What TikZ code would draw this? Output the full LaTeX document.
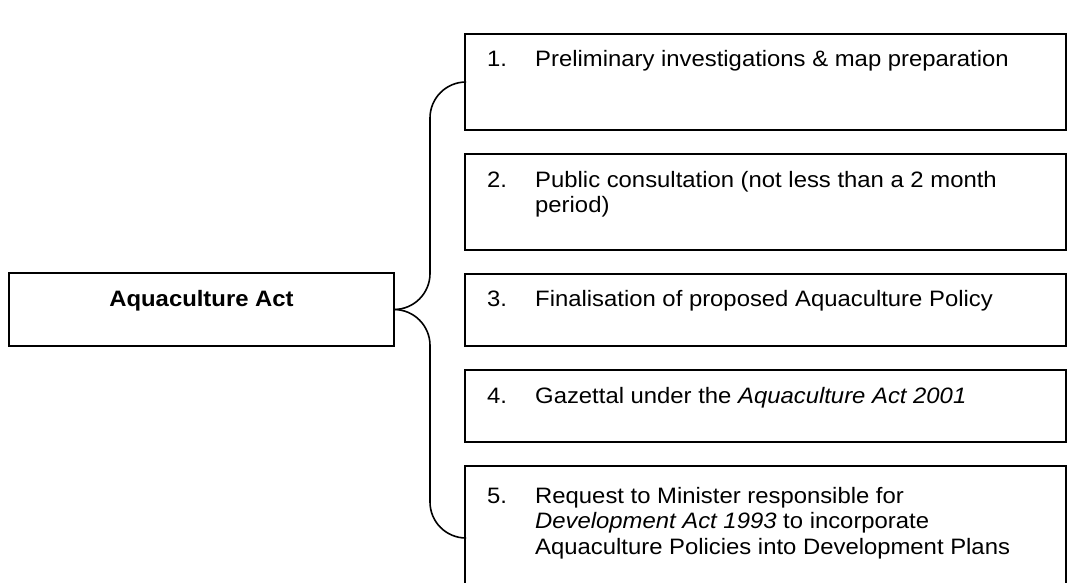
\documentclass[tikz,border=0pt]{standalone}
\usepackage{fontspec}
\setmainfont[FakeStretch=1.07]{Liberation Sans}
\begin{document}
\begin{tikzpicture}[x=1pt,y=-1pt,
  box/.style={draw, line width=2pt, inner sep=0pt, outer sep=0pt, anchor=north west},
  txt/.style={anchor=base west, inner sep=0pt, font=\fontsize{22.3}{25.5}\selectfont},
  brace/.style={line width=1.6pt, rounded corners=36pt}]
\useasboundingbox (0,0) rectangle (1086,583);
\begin{scope}
\clip (0,0) rectangle (1086,583);
% boxes
\node[box, minimum width=385pt, minimum height=73pt] (act) at (9,273) {};
\node[box, minimum width=601pt, minimum height=96pt] (s1) at (465,34) {};
\node[box, minimum width=601pt, minimum height=96pt] (s2) at (465,154) {};
\node[box, minimum width=601pt, minimum height=72pt] (s3) at (465,274) {};
\node[box, minimum width=601pt, minimum height=72pt] (s4) at (465,370) {};
\node[box, minimum width=601pt, minimum height=144pt] (s5) at (465,466) {};
% texts
\node[txt, anchor=base, font=\fontsize{22.3}{25.5}\selectfont\bfseries] (tact) at ([yshift=-33.5pt]act.north) {Aquaculture Act};
\node[txt] (n1) at ([xshift=22pt,yshift=-32.7pt]s1.north west) {1.};
\node[txt] (t1) at ([xshift=70pt,yshift=-32.7pt]s1.north west) {Preliminary investigations \& map preparation};
\node[txt] (n2) at ([xshift=22pt,yshift=-33pt]s2.north west) {2.};
\node[txt] (t2a) at ([xshift=70pt,yshift=-33pt]s2.north west) {Public consultation (not less than a 2 month};
\node[txt] (t2b) at ([xshift=70pt,yshift=-58.5pt]s2.north west) {period)};
\node[txt] (n3) at ([xshift=22pt,yshift=-32pt]s3.north west) {3.};
\node[txt] (t3) at ([xshift=70pt,yshift=-32pt]s3.north west) {Finalisation of proposed Aquaculture Policy};
\node[txt] (n4) at ([xshift=22pt,yshift=-33pt]s4.north west) {4.};
\node[txt] (t4) at ([xshift=70pt,yshift=-33pt]s4.north west) {Gazettal under the \textit{Aquaculture Act 2001}};
\node[txt] (n5) at ([xshift=22pt,yshift=-37pt]s5.north west) {5.};
\node[txt] (t5a) at ([xshift=70pt,yshift=-37pt]s5.north west) {Request to Minister responsible for};
\node[txt] (t5b) at ([xshift=70pt,yshift=-62.5pt]s5.north west) {\textit{Development Act 1993} to incorporate};
\node[txt] (t5c) at ([xshift=70pt,yshift=-88pt]s5.north west) {Aquaculture Policies into Development Plans};
% brace
\coordinate (spine) at (430,310);
\draw[brace] (s1.west) -- (spine |- s1.west) -- (spine |- act.east) -- (act.east);
\draw[brace] (act.east) -- (spine |- act.east) -- (spine |- s5.west) -- (s5.west);
\end{scope}
\end{tikzpicture}
\end{document}
